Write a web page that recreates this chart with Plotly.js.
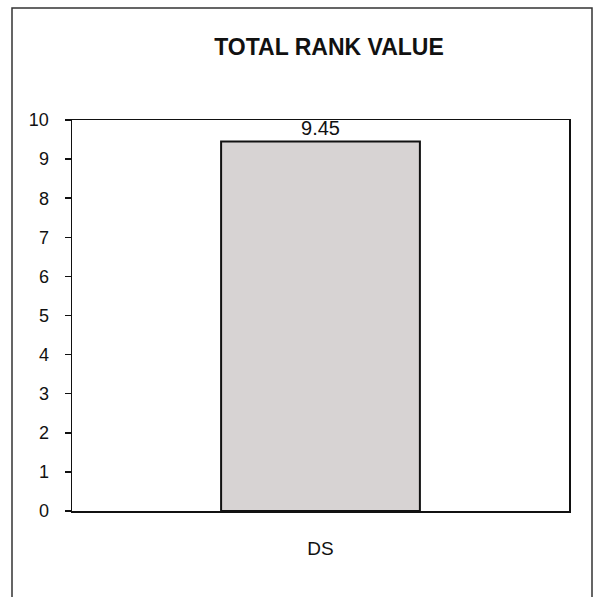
<!DOCTYPE html>
<html>
<head>
<meta charset="utf-8">
<script src="https://cdn.plot.ly/plotly-3.0.1.min.js"></script>
<style>
html,body{margin:0;padding:0;background:#fff;}
#chart{width:594px;height:597px;}
</style>
</head>
<body>
<div id="chart"></div>
<script>
const categories = ["DS"];
const values = [9.45];
const valueLabels = ["9.45"];
const yTicks = [0,1,2,3,4,5,6,7,8,9,10];

const trace = {
  type: 'bar',
  x: categories,
  y: values,
  text: valueLabels,
  textposition: 'outside',
  cliponaxis: false,
  textfont: {family: 'Liberation Sans, Arial, sans-serif', size: 20, color: '#111'},
  marker: {color: '#d7d3d3', line: {color: '#111', width: 2}},
  hoverinfo: 'none'
};

const layout = {
  width: 594, height: 597,
  margin: {l: 72, r: 25, t: 120, b: 86},
  paper_bgcolor: '#fff', plot_bgcolor: '#fff',
  showlegend: false,
  bargap: 0.6,
  font: {family: 'Liberation Sans, Arial, sans-serif', color: '#111'},
  title: {
    text: '<b>TOTAL RANK VALUE</b>',
    font: {family: 'Liberation Sans, Arial, sans-serif', size: 23, color: '#111'},
    xref: 'container', yref: 'container',
    x: 329/594, y: 1 - 47/597, xanchor: 'center', yanchor: 'middle'
  },
  xaxis: {
    type: 'category',
    showline: true, linecolor: '#111', linewidth: 1.5, mirror: true,
    ticks: '', showgrid: false, zeroline: false,
    tickfont: {size: 19, color: '#111'},
    ticklabelstandoff: 20
  },
  yaxis: {
    range: [0, 10],
    tickvals: yTicks,
    ticktext: yTicks.map(String),
    showline: true, linecolor: '#111', linewidth: 1.5, mirror: true,
    ticks: 'outside', ticklen: 6, tickwidth: 1.5, tickcolor: '#111',
    showgrid: false, zeroline: false,
    tickfont: {size: 18, color: '#111'},
    ticklabelstandoff: 12
  },
  shapes: [{
    type: 'rect', xref: 'paper', yref: 'paper',
    x0: (12-72)/497, x1: (592-72)/497,
    y0: (511-605)/391, y1: (511-8)/391,
    line: {color: '#333', width: 1.5}, fillcolor: 'rgba(0,0,0,0)', layer: 'above'
  }]
};

Plotly.newPlot('chart', [trace], layout, {displayModeBar: false, staticPlot: true});
</script>
</body>
</html>
